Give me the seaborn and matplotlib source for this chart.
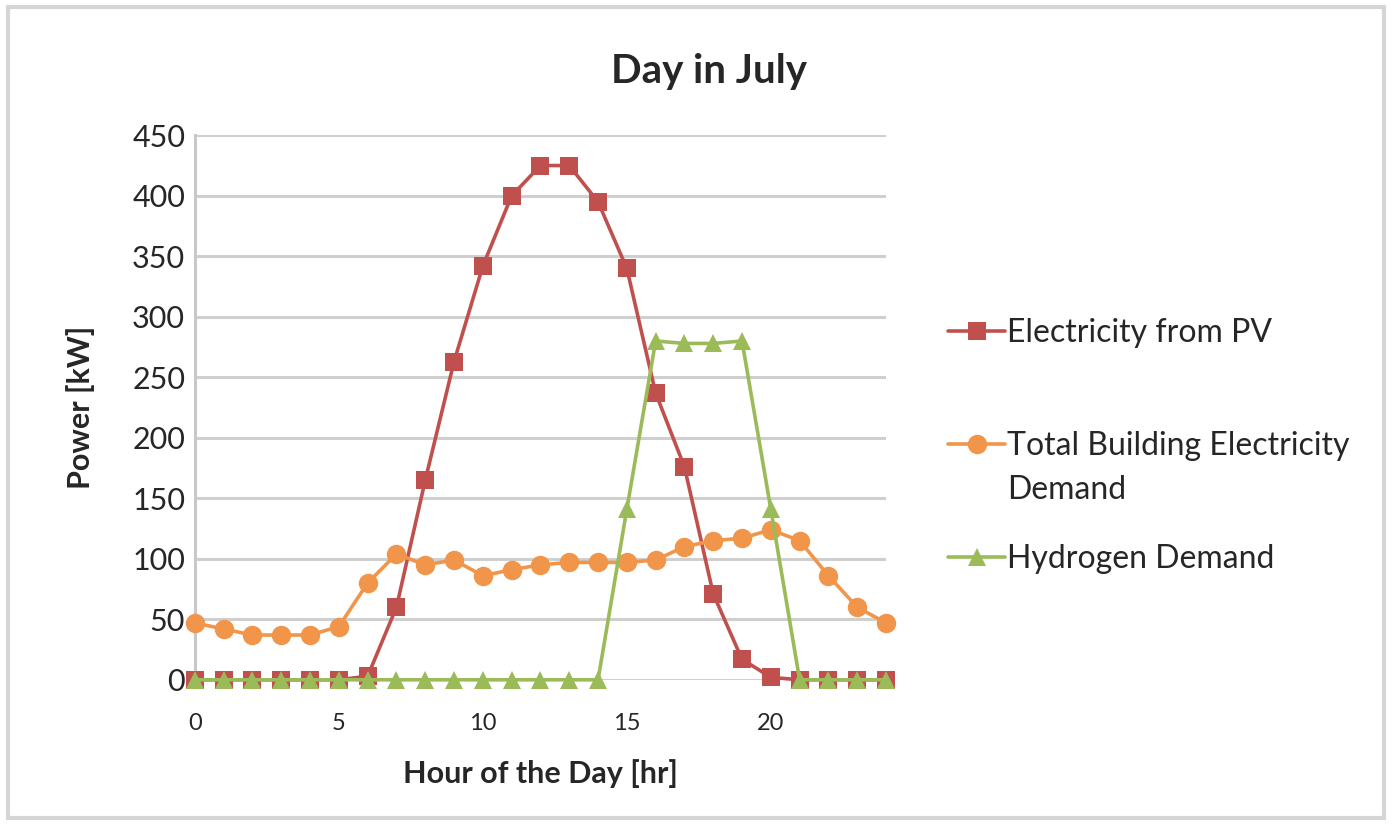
import pandas as pd
import matplotlib.pyplot as plt
import seaborn as sns
from matplotlib.patches import Rectangle

hours = list(range(25))
pv = [0, 0, 0, 0, 0, 0, 3, 60, 165, 263, 342, 400, 425, 425, 395, 340,
      237, 176, 71, 17, 2, 0, 0, 0, 0]
building = [47, 42, 37, 37, 37, 44, 80, 104, 95, 99, 86, 91, 95, 97, 97, 97,
            99, 110, 115, 117, 124, 115, 86, 60, 47]
hydrogen = [0, 0, 0, 0, 0, 0, 0, 0, 0, 0, 0, 0, 0, 0, 0, 141,
            280, 278, 278, 280, 141, 0, 0, 0, 0]

names = ['Electricity from PV', 'Total Building Electricity Demand', 'Hydrogen Demand']
colors = ['#C0504D', '#F0954A', '#9BBB59']
markers = ['s', 'o', '^']
msizes = [13, 14, 13]

df = pd.DataFrame({'Hour': hours * 3,
                   'Power': pv + building + hydrogen,
                   'Series': [names[0]] * 25 + [names[1]] * 25 + [names[2]] * 25})

sns.set_style('white')
plt.rcParams['font.family'] = ['Lato', 'DejaVu Sans']

fig = plt.figure(figsize=(13.92, 8.25), dpi=100)
ax = fig.add_axes([0.140, 0.176, 0.4965, 0.66])

for name, c, m, s in zip(names, colors, markers, msizes):
    sns.lineplot(data=df[df['Series'] == name], x='Hour', y='Power', ax=ax,
                 color=c, marker=m, markersize=s, markeredgewidth=0,
                 linewidth=2.6, label=name, clip_on=False, zorder=3)

ax.set_xlim(0, 24)
ax.set_ylim(0, 450)
ax.set_xticks([0, 5, 10, 15, 20])
ax.set_yticks(range(0, 451, 50))
ax.tick_params(axis='x', labelsize=17, length=0, pad=24)
ax.tick_params(axis='y', labelsize=22, length=5, width=2, color='#c8c8c8', pad=2)
ax.grid(axis='y', color='#cfcfcf', linewidth=2.2)
ax.grid(axis='x', visible=False)
for side in ['top', 'right', 'bottom']:
    ax.spines[side].set_visible(False)
ax.spines['left'].set_color('#c8c8c8')
ax.spines['left'].set_linewidth(2.2)

ax.set_xlabel('Hour of the Day [hr]', fontsize=22, fontweight='bold', labelpad=18)
ax.set_ylabel('Power [kW]', fontsize=22, fontweight='bold', labelpad=27)
fig.text(0.509, 0.913, 'Day in July', fontsize=29, fontweight='bold', ha='center', va='center')

# legend: wrapped label, handle aligned with the first line as in the original
handles, _ = ax.get_legend_handles_labels()
leg_labels = ['Electricity from PV', 'Total Building Electricity', 'Hydrogen Demand']
leg = ax.legend(handles, leg_labels, loc='center left', bbox_to_anchor=(0.681, 0.459),
                bbox_transform=fig.transFigure, frameon=False, fontsize=23,
                handlelength=1.8, handletextpad=0.05, labelspacing=2.6,
                borderpad=0, borderaxespad=0)
fig.canvas.draw()
bb = leg.get_texts()[1].get_window_extent().transformed(fig.transFigure.inverted())
fig.text(bb.x0, bb.y0 - 0.016, 'Demand', fontsize=23, ha='left', va='top')

fig.patches.append(Rectangle((0.006, 0.008), 0.988, 0.984, transform=fig.transFigure,
                             fill=False, edgecolor='#d6d6d6', linewidth=3))

fig.savefig('out.png', dpi=100)
